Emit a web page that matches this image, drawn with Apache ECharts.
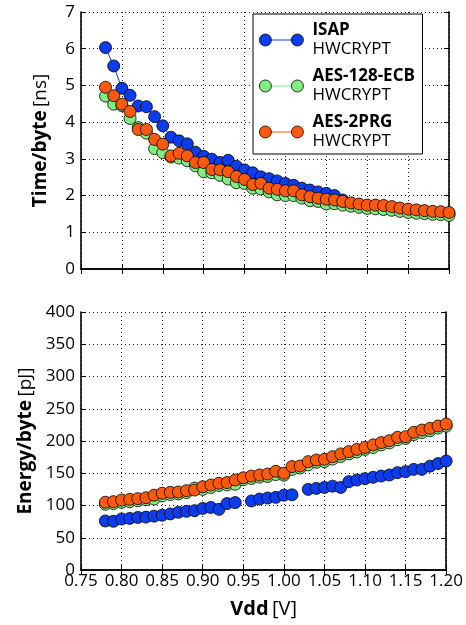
<!DOCTYPE html>
<html>
<head>
<meta charset="utf-8">
<script src="https://cdn.jsdelivr.net/npm/echarts/dist/echarts.min.js"></script>
<style>
  html, body { margin: 0; padding: 0; background: #fff; }
  #chart { width: 466px; height: 625px; }
</style>
</head>
<body>
<div id="chart"></div>
<script>
// supply voltage sweep (V)
var vdd = [0.78, 0.79, 0.80, 0.81, 0.82, 0.83, 0.84, 0.85, 0.86, 0.87, 0.88, 0.89, 0.90, 0.91,
           0.92, 0.93, 0.94, 0.95, 0.96, 0.97, 0.98, 0.99, 1.00, 1.01, 1.02, 1.03, 1.04, 1.05,
           1.06, 1.07, 1.08, 1.09, 1.10, 1.11, 1.12, 1.13, 1.14, 1.15, 1.16, 1.17, 1.18, 1.19, 1.20];

// time per byte (ns)
var isapTime = [6.03, 5.53, 4.92, 4.73, 4.44, 4.42, 4.15, 3.90, 3.59, 3.49, 3.41, 3.18, 3.07, 2.99,
                2.90, 2.96, 2.80, 2.70, 2.62, 2.51, 2.46, 2.40, 2.33, 2.28, 2.20, 2.15, 2.10, 2.06,
                2.00, 1.88, 1.78, 1.75, 1.72, 1.72, 1.71, 1.68, 1.64, 1.61, 1.59, 1.57, 1.55, 1.54, 1.51];
var aesEcbTime = [4.71, 4.49, 4.45, 4.10, 3.85, 3.70, 3.28, 3.17, 3.05, 3.02, 2.95, 2.81, 2.65, 2.62,
                  2.55, 2.45, 2.35, 2.33, 2.20, 2.18, 2.10, 2.02, 2.00, 2.00, 1.93, 1.86, 1.84, 1.77,
                  1.78, 1.74, 1.71, 1.68, 1.65, 1.64, 1.62, 1.60, 1.57, 1.54, 1.52, 1.51, 1.49, 1.48, 1.46];
var aes2prgTime = [4.95, 4.72, 4.49, 4.29, 3.80, 3.80, 3.53, 3.40, 3.08, 3.15, 3.08, 2.90, 2.90, 2.71,
                   2.70, 2.65, 2.52, 2.44, 2.30, 2.33, 2.20, 2.17, 2.13, 2.13, 2.02, 1.97, 1.93, 1.90,
                   1.88, 1.84, 1.80, 1.77, 1.74, 1.74, 1.73, 1.70, 1.66, 1.63, 1.61, 1.59, 1.57, 1.56, 1.54];

// energy per byte (pJ)
var isapEnergy = [76, 75.5, 79, 80, 81.5, 82, 83.5, 85, 87, 89.5, 91, 92, 95.5, 97,
                  94, 103, 104.5, null, 107, 110, 111.6, 112.6, 116, 116.5, null, 125, 126.5, 128,
                  130, 128, 137, 139.5, 141.6, 143.7, 145.7, 147.3, 150.9, 152.5, 156, 156, 161, 165, 169];
var aesEcbEnergy = [102, 103, 105, 106, 107.5, 109, 110, 115, 117, 118, 120, 127, 125, 128,
                    131, 132, 133, 140, 142, 144, 145, 148, 147, 156, 158, 163, 167, 168,
                    172, 176, 180, 183, 187, 190, 194, 197, 202, 204, 210, 213, 216, 220, 223];
var aes2prgEnergy = [105, 106, 108.5, 109.5, 110.6, 112, 116, 119, 120.4, 121, 123, 124, 129, 131.8,
                     134.4, 135.5, 139.5, 143, 145.7, 147.3, 148.8, 153, 150, 160.3, 161.2, 168, 170.5, 171.6,
                     175.7, 180, 183.5, 187, 190, 194, 197.5, 200.5, 205.7, 206.7, 213.5, 217, 219.6, 223.3, 226.4];

var names = ['ISAP', 'AES-128-ECB', 'AES-2PRG'];
var colors = ['#0a3cf0', '#80ee80', '#ff5a0a'];

var font = 'Open Sans';
var chart = echarts.init(document.getElementById('chart'));

function pairs(ys) {
  return vdd.map(function (v, i) { return [v, ys[i]]; });
}

function mkSeries(idx, ys, grid) {
  return {
    name: names[idx],
    type: 'line',
    xAxisIndex: grid * 2,
    yAxisIndex: grid * 2,
    data: pairs(ys),
    symbol: 'circle',
    symbolSize: 12,
    showAllSymbol: true,
    connectNulls: false,
    animation: false,
    lineStyle: { color: colors[idx], width: 1 },
    itemStyle: { color: colors[idx], borderColor: '#000', borderWidth: 0.8 },
    emphasis: { disabled: true }
  };
}

var gridLine = { show: true, lineStyle: { color: '#222', type: [1, 3], width: 1 } };
var frame = { show: true, lineStyle: { color: '#000', width: 1.6 } };
var tickIn = { show: true, inside: true, length: 5, lineStyle: { color: '#000' } };

function xMain(grid, labels) {
  return {
    type: 'value', gridIndex: grid, min: 0.75, max: 1.20, interval: 0.05,
    position: 'bottom',
    axisLine: frame, axisTick: tickIn, splitLine: gridLine,
    axisLabel: {
      show: labels, color: '#000', fontFamily: font, fontSize: 17, margin: 3,
      formatter: function (v) { return v.toFixed(2); }
    },
    name: labels ? '{b|Vdd} {n|[V]}' : '',
    nameLocation: 'middle', nameGap: 29,
    nameTextStyle: {
      rich: {
        b: { fontFamily: font, fontWeight: 'bold', fontSize: 20, color: '#000' },
        n: { fontFamily: font, fontSize: 20, color: '#000' }
      }
    }
  };
}
function xTop(grid) {
  return {
    type: 'value', gridIndex: grid, min: 0.75, max: 1.20, interval: 0.05,
    position: 'top', axisLine: frame, axisTick: tickIn,
    axisLabel: { show: false }, splitLine: { show: false }
  };
}
function yMain(grid, max, interval, title) {
  return {
    type: 'value', gridIndex: grid, min: 0, max: max, interval: interval,
    position: 'left',
    axisLine: frame, axisTick: tickIn, splitLine: gridLine,
    axisLabel: { color: '#000', fontFamily: font, fontSize: 17, margin: 6 },
    name: title, nameLocation: 'middle', nameGap: grid === 0 ? 31 : 41,
    nameTextStyle: {
      rich: {
        b: { fontFamily: font, fontWeight: 'bold', fontSize: 19, color: '#000' },
        n: { fontFamily: font, fontSize: 19, color: '#000' }
      }
    }
  };
}
function yRight(grid, max, interval) {
  return {
    type: 'value', gridIndex: grid, min: 0, max: max, interval: interval,
    position: 'right', axisLine: frame, axisTick: tickIn,
    axisLabel: { show: false }, splitLine: { show: false }
  };
}

// legend sample: a thin coloured line under two outlined circles
var iconLine = 'path://M0,0M44,12M8,5.5L36,5.5L36,6.5L8,6.5Z';
var iconDots = 'path://M0,6a6,6 0 1,0 12,0a6,6 0 1,0 -12,0Z' +
               'M32,6a6,6 0 1,0 12,0a6,6 0 1,0 -12,0Z';

function mkLegend(icon, under) {
  return {
    orient: 'vertical',
    left: 253, top: 14,
    width: 191,
    padding: [8, 8, 4, 6],
    itemGap: 10,
    itemWidth: 44, itemHeight: 12,
    icon: icon,
    backgroundColor: under ? '#fff' : 'transparent',
    borderColor: under ? '#000' : 'transparent',
    borderWidth: under ? 1 : 0,
    borderRadius: 0,
    z: under ? 10 : 11,
    selectedMode: false,
    itemStyle: under ? { borderWidth: 0 } : { borderColor: '#000', borderWidth: 0.8 },
    data: names,
    formatter: function (name) { return '{b|' + name + '}\n{n|HWCRYPT}'; },
    textStyle: {
      padding: [0, 0, 0, 4],
      rich: {
        b: { fontFamily: font, fontWeight: 'bold', fontSize: 17, lineHeight: 19,
             color: under ? 'transparent' : '#000' },
        n: { fontFamily: font, fontSize: 17, lineHeight: 19,
             color: under ? 'transparent' : '#000' }
      }
    }
  };
}

var option = {
  backgroundColor: '#fff',
  animation: false,
  grid: [
    { left: 81, top: 12, width: 368, height: 257 },
    { left: 81, top: 312, width: 368, height: 258 }
  ],
  legend: [mkLegend(iconLine, true), mkLegend(iconDots, false)],
  xAxis: [xMain(0, false), xTop(0), xMain(1, true), xTop(1)],
  yAxis: [
    yMain(0, 7, 1, '{b|Time/byte} {n|[ns]}'), yRight(0, 7, 1),
    yMain(1, 400, 50, '{b|Energy/byte} {n|[pJ]}'), yRight(1, 400, 50)
  ],
  series: [
    mkSeries(0, isapTime, 0), mkSeries(1, aesEcbTime, 0), mkSeries(2, aes2prgTime, 0),
    mkSeries(0, isapEnergy, 1), mkSeries(1, aesEcbEnergy, 1), mkSeries(2, aes2prgEnergy, 1)
  ]
};

chart.setOption(option);
</script>
</body>
</html>
